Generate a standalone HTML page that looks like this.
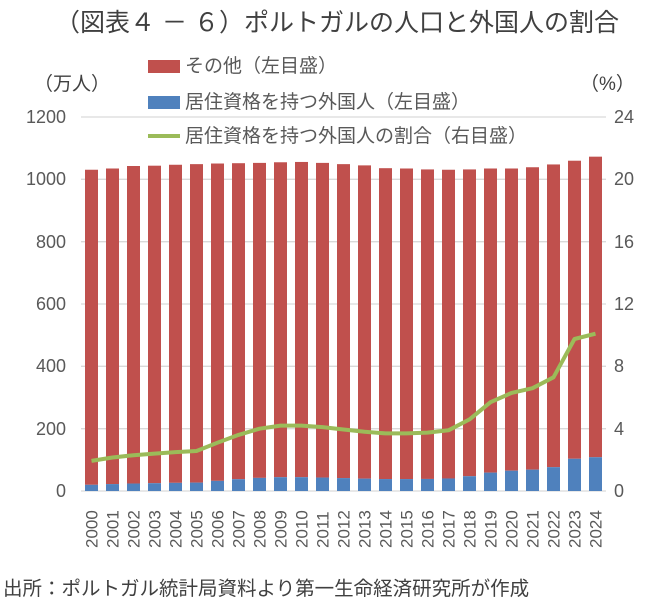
<!DOCTYPE html>
<html><head><meta charset="utf-8"><style>
body{margin:0;background:#fff;}
svg{display:block;font-family:"Liberation Sans","Noto Sans CJK JP",sans-serif;}
</style></head><body>
<svg width="651" height="600" viewBox="0 0 651 600" xmlns="http://www.w3.org/2000/svg">
<text x="337" y="31" text-anchor="middle" font-size="25" fill="#404040">（図表４ － ６）ポルトガルの人口と外国人の割合</text>
<g stroke="#d9d9d9" stroke-width="1.3">
<line x1="81" x2="606" y1="117" y2="117"/><line x1="81" x2="606" y1="179.3" y2="179.3"/><line x1="81" x2="606" y1="241.7" y2="241.7"/><line x1="81" x2="606" y1="304" y2="304"/><line x1="81" x2="606" y1="366.3" y2="366.3"/><line x1="81" x2="606" y1="428.7" y2="428.7"/><line x1="81" x2="606" y1="491" y2="491"/>
</g>
<g font-size="18" fill="#595959" text-anchor="end">
<text x="66" y="123">1200</text><text x="66" y="185">1000</text><text x="66" y="248">800</text><text x="66" y="310">600</text><text x="66" y="372">400</text><text x="66" y="435">200</text><text x="66" y="497">0</text>
</g>
<g font-size="18" fill="#595959" text-anchor="start">
<text x="614" y="123">24</text><text x="614" y="185">20</text><text x="614" y="248">16</text><text x="614" y="310">12</text><text x="614" y="372">8</text><text x="614" y="435">4</text><text x="614" y="497">0</text>
</g>
<text x="34" y="90" font-size="19" fill="#404040">（万人）</text>
<text x="580" y="90" font-size="19" fill="#404040">（%）</text>
<g id="bars"></g>
<polyline id="line" fill="none" stroke="#9bbb59" stroke-width="4" stroke-linejoin="round" points=""/>
<g id="xl" font-size="17" fill="#595959"></g>
<rect x="148" y="60" width="32" height="13" fill="#c0504d"/>
<text x="185" y="72" font-size="19" fill="#595959">その他（左目盛）</text>
<rect x="148" y="96" width="32" height="13" fill="#4f81bd"/>
<text x="185" y="108" font-size="19" fill="#595959">居住資格を持つ外国人（左目盛）</text>
<line x1="148" x2="180" y1="136" y2="136" stroke="#9bbb59" stroke-width="4"/>
<text x="185" y="142" font-size="19" fill="#595959">居住資格を持つ外国人の割合（右目盛）</text>
<text x="3" y="595" font-size="19.5" fill="#404040">出所：ポルトガル統計局資料より第一生命経済研究所が作成</text>
<script>
var tot=[1032,1036,1044,1045,1048,1050,1052,1053,1054,1056,1057,1054,1050,1046,1037,1036,1033,1032,1033,1036,1036,1040,1049,1061,1074];
var r=[1.93,2.15,2.3,2.4,2.5,2.57,3.1,3.6,4.0,4.2,4.2,4.1,3.95,3.8,3.7,3.7,3.75,3.9,4.6,5.7,6.3,6.6,7.3,9.76,10.1];
var ns="http://www.w3.org/2000/svg",g=document.getElementById("bars"),xl=document.getElementById("xl"),pts=[];
for(var i=0;i<25;i++){var cx=81+10.5+21*i,t=tot[i],f=t*r[i]/100,s=0.3113;
var a=document.createElementNS(ns,"rect");a.setAttribute("x",cx-6.5);a.setAttribute("width",13);a.setAttribute("y",491-t*s);a.setAttribute("height",(t-f)*s);a.setAttribute("fill","#c0504d");g.appendChild(a);
var b=document.createElementNS(ns,"rect");b.setAttribute("x",cx-6.5);b.setAttribute("width",13);b.setAttribute("y",491-f*s);b.setAttribute("height",f*s);b.setAttribute("fill","#4f81bd");g.appendChild(b);
pts.push(cx+","+(491-r[i]*15.575).toFixed(1));
var tx=document.createElementNS(ns,"text");tx.setAttribute("transform","translate("+(cx+6)+",548) rotate(-90)");tx.textContent=2000+i;xl.appendChild(tx);}
document.getElementById("line").setAttribute("points",pts.join(" "));
</script>
</svg>
</body></html>
